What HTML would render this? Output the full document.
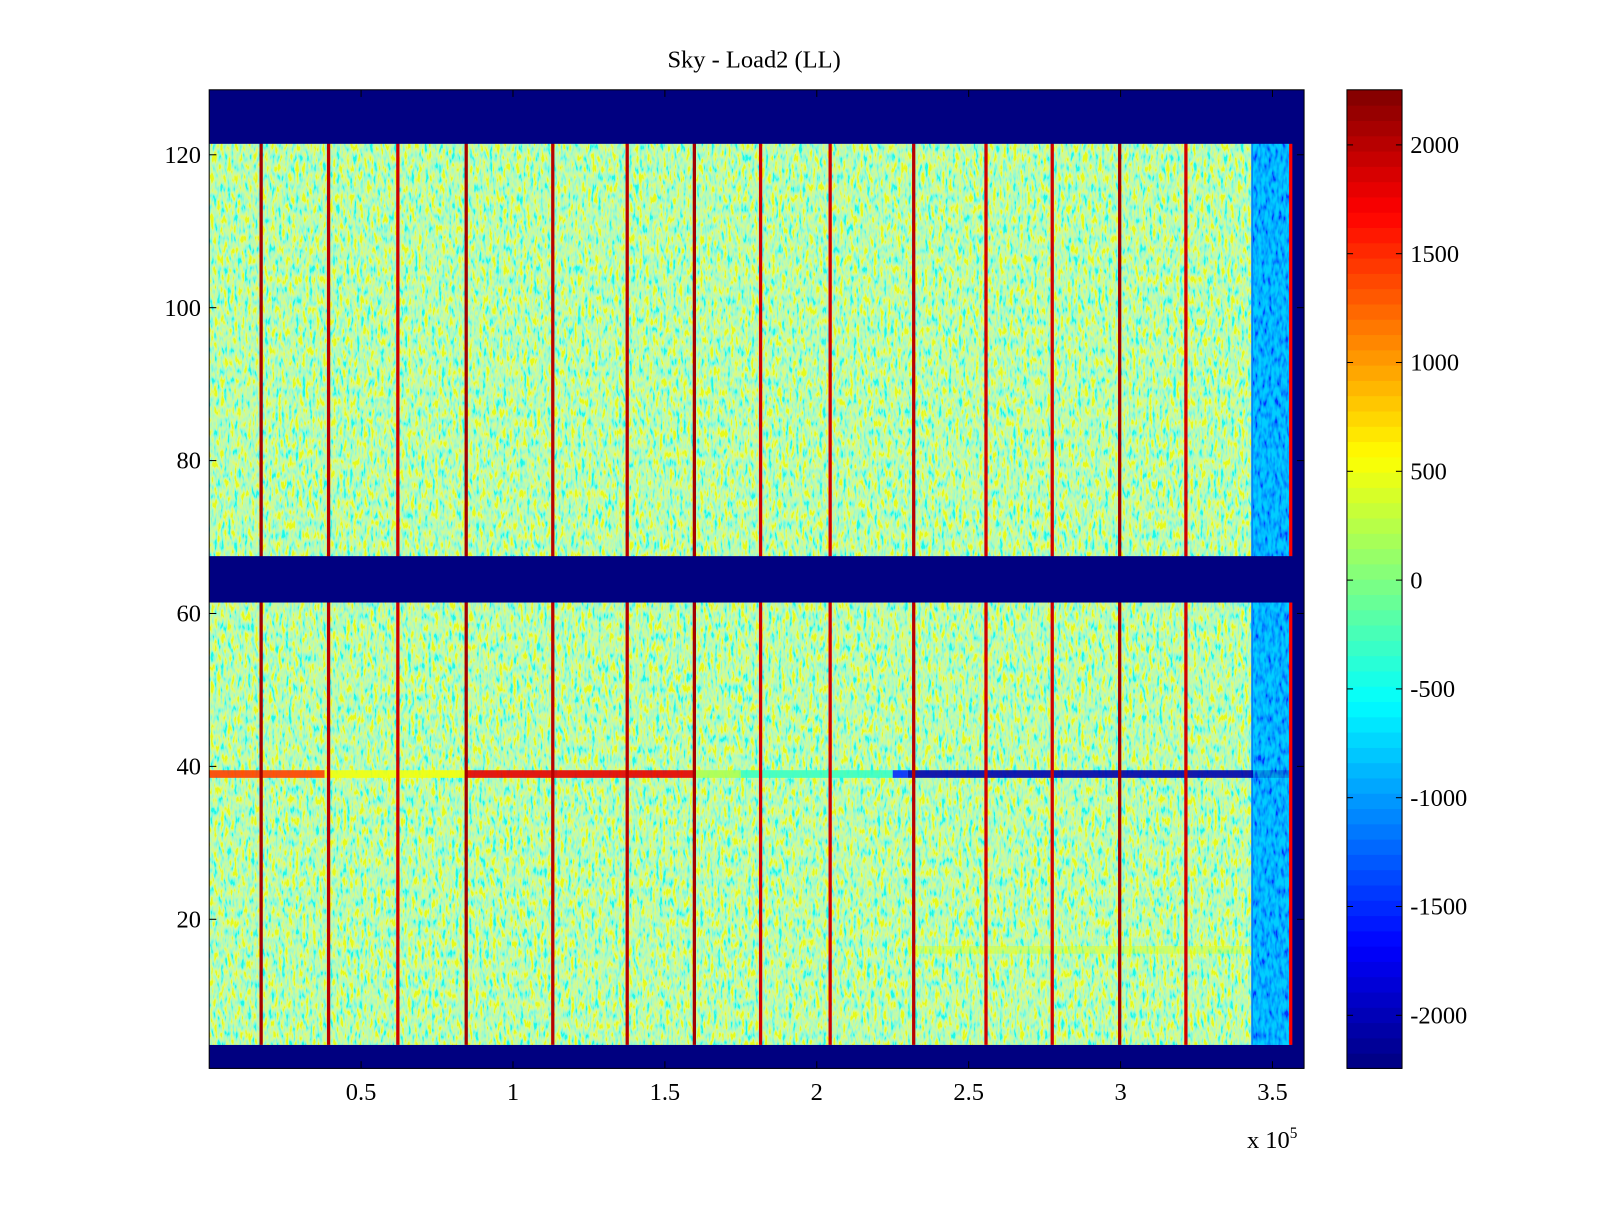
<!DOCTYPE html>
<html><head><meta charset="utf-8"><style>
html,body{margin:0;padding:0;background:#fff;}
svg text{font-family:"Liberation Serif",serif;font-size:24px;fill:#000;}
</style></head><body>
<svg width="1600" height="1200" viewBox="0 0 1568 1176" xmlns="http://www.w3.org/2000/svg">
<defs>
<filter id="noise" x="0" y="0" width="100%" height="100%">
<feTurbulence type="fractalNoise" baseFrequency="0.3 0.1" numOctaves="2" seed="3"/>
<feColorMatrix type="matrix" values="2.64 0 0 0 -0.72  0 0 0 0 0.95  -2.64 0 0 0 1.82  0 0 0 0 0.8"/>
</filter>
<filter id="noise2" x="0" y="0" width="100%" height="100%">
<feTurbulence type="fractalNoise" baseFrequency="0.3 0.1" numOctaves="2" seed="7"/>
<feColorMatrix type="matrix" values="0 0 0 0 0  2.5 0 0 0 -0.6  0 0 0 0 1  0 0 0 0 0.6"/>
</filter>
<clipPath id="dataClip"><rect x="205" y="140" width="1023" height="884"/></clipPath>
<clipPath id="edgeClip"><rect x="1228" y="140" width="37" height="884"/></clipPath>
</defs>
<text x="739" y="66" text-anchor="middle">Sky - Load2 (LL)</text>
<g id="heat"></g>
<rect x="205" y="140" width="1023" height="884" filter="url(#noise)" clip-path="url(#dataClip)"/>
<g id="marks"></g>
<rect x="1228" y="140" width="37" height="884" filter="url(#noise2)" clip-path="url(#edgeClip)"/>
<g id="stripes"></g>
<g id="mask"></g>
<rect x="205" y="88" width="1073" height="959" fill="none" stroke="#000" stroke-width="1"/>
<g id="axes"></g>
<text x="1222" y="1125">x 10<tspan dy="-10" font-size="15">5</tspan></text>
<g id="cbar"></g>
</svg>
<script>
// ---- data ----
const emptyRows = [1,2,3,62,63,64,65,66,67,122,123,124,125,126,127,128];
const emptyValue = -2250;
const baseValue = 0;
const stripeX = [0.171,0.393,0.621,0.846,1.131,1.376,1.597,1.815,2.044,2.319,2.557,2.775,2.997,3.215,3.560];
const stripeValues = [2100,2000,1900,2100,2000,2000,2100,1900,1900,2000,1900,1900,2100,1900,1700];
const row39Start = [0,0.38,0.85,1.6,1.75,2.25,2.3];
const row39End = [0.38,0.85,1.6,1.75,2.25,2.3,3.56];
const row39Values = [1400,500,1800,200,-300,-1500,-2050];
const row16Start = [2.3];
const row16End = [3.43];
const row16Values = [400];
const edgeStart = 3.43, edgeEnd = 3.56, edgeValue = -1100;
const dataEnd = 3.56;
const cbTicks = [2000,1500,1000,500,0,-500,-1000,-1500,-2000];
const xTicks = [0.5,1,1.5,2,2.5,3,3.5];
const yTicks = [20,40,60,80,100,120];
// ---- scales ----
const xS = v => 205 + v/3.604*1073;
const yS = r => 1047 - (r-0.5)*959/128;
const cS = v => 568.5 - v*0.21325;
function jet(v){
  let t=(v+2250)/4500; t=Math.max(0,Math.min(1,t));
  const f=x=>Math.max(0,Math.min(1,x));
  const r=f(Math.min(4*t-1.5,-4*t+4.5)), g=f(Math.min(4*t-0.5,-4*t+3.5)), b=f(Math.min(4*t+0.5,-4*t+2.5));
  return `rgb(${Math.round(r*255)},${Math.round(g*255)},${Math.round(b*255)})`;
}
const NS="http://www.w3.org/2000/svg";
function rect(parent,x,y,w,h,fill){const e=document.createElementNS(NS,'rect');e.setAttribute('x',x);e.setAttribute('y',y);e.setAttribute('width',w);e.setAttribute('height',h);e.setAttribute('fill',fill);parent.appendChild(e);return e;}
function text(parent,x,y,s,anchor){const e=document.createElementNS(NS,'text');e.setAttribute('x',x);e.setAttribute('y',y);e.setAttribute('text-anchor',anchor);e.textContent=s;parent.appendChild(e);return e;}
function line(parent,x1,y1,x2,y2){const e=document.createElementNS(NS,'line');e.setAttribute('x1',x1);e.setAttribute('y1',y1);e.setAttribute('x2',x2);e.setAttribute('y2',y2);e.setAttribute('stroke','#000');e.setAttribute('stroke-width','1');parent.appendChild(e);return e;}
const heat=document.getElementById('heat'), marks=document.getElementById('marks'), mask=document.getElementById('mask'), stripes=document.getElementById('stripes');
let bg=rect(heat,205,88,1073,959,jet(emptyValue));


let base=rect(heat,xS(0),140,xS(dataEnd)-xS(0),884,jet(baseValue));


let ed=rect(marks,xS(edgeStart),140,xS(edgeEnd)-xS(edgeStart),884,jet(edgeValue));


function segs(row,st,en,vals,name,op){
  for(let i=0;i<st.length;i++){
    const e=rect(marks,xS(st[i]),yS(row+0.5),xS(en[i])-xS(st[i]),yS(row-0.5)-yS(row+0.5),jet(vals[i]));
    
    
    e.setAttribute('opacity',op);
  }
}
segs(39,row39Start,row39End,row39Values,'row-39-segment','0.9');
segs(16,row16Start,row16End,row16Values,'row-16-segment','0.5');
stripeX.forEach((x,i)=>{
  const e=rect(stripes,xS(x)-1.6,140,3.2,884,jet(stripeValues[i]));
  
  
});
emptyRows.forEach(r=>{
  const e=rect(mask,205,yS(r+0.5),1073,yS(r-0.5)-yS(r+0.5)+0.5,jet(emptyValue));
  
  
});
const axes=document.getElementById('axes');
xTicks.forEach(t=>{const x=xS(t);line(axes,x,1047,x,1040);line(axes,x,88,x,95);
  const e=text(axes,x,1078,String(t),'middle');
  
  });
yTicks.forEach(t=>{const y=yS(t);line(axes,205,y,212,y);line(axes,1278,y,1271,y);
  const e=text(axes,197,y+8,String(t),'end');
  
  });
const cb=document.getElementById('cbar');
const N=64;
for(let i=0;i<N;i++){
  const v=-2250+(i+0.5)*4500/N;
  const y0=1047-(i+1)*959/N;
  rect(cb,1320,y0,54,959/N+0.6,jet(v));
}
const fr=rect(cb,1320,88,54,959,'none');fr.setAttribute('stroke','#000');
cbTicks.forEach(t=>{const y=cS(t);line(cb,1320,y,1326,y);line(cb,1374,y,1368,y);
  const e=text(cb,1382,y+8,String(t),'start');
  
  });
</script>
</body></html>
